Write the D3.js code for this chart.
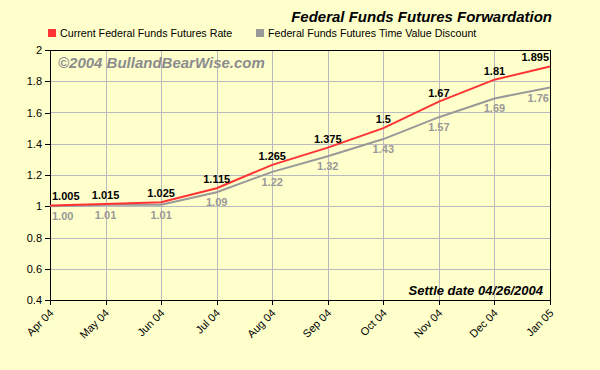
<!DOCTYPE html>
<html>
<head>
<meta charset="utf-8">
<script src="https://cdn.jsdelivr.net/npm/d3@7"></script>
<style>
  body { margin: 0; background: #ffffcc; }
  svg { display: block; font-family: Arial, "Liberation Sans", sans-serif; }
</style>
</head>
<body>
<svg width="600" height="370"></svg>
<script>
// chart data
var months = ["Apr 04", "May 04", "Jun 04", "Jul 04", "Aug 04", "Sep 04", "Oct 04", "Nov 04", "Dec 04", "Jan 05"];
var futuresRate = [1.005, 1.015, 1.025, 1.115, 1.265, 1.375, 1.5, 1.67, 1.81, 1.895];
var rateLabels = ["1.005", "1.015", "1.025", "1.115", "1.265", "1.375", "1.5", "1.67", "1.81", "1.895"];
var discount = [1.00, 1.01, 1.01, 1.09, 1.22, 1.32, 1.43, 1.57, 1.69, 1.76];
var yTicks = [0.4, 0.6, 0.8, 1, 1.2, 1.4, 1.6, 1.8, 2];

var svg = d3.select("svg");
var plotLeft = 50, plotRight = 550, plotTop = 50, plotBottom = 300;

var x = d3.scalePoint().domain(months).range([plotLeft, plotRight]);
var y = d3.scaleLinear().domain([0.4, 2]).range([plotBottom, plotTop]);

svg.append("rect").attr("width", 600).attr("height", 370).attr("fill", "#ffffcc");

// grid
var grid = svg.append("g").attr("shape-rendering", "crispEdges");
grid.selectAll(".hg").data(yTicks.slice(1, -1)).enter().append("line")
  .attr("x1", plotLeft).attr("x2", plotRight)
  .attr("y1", function (d) { return Math.round(y(d)) + 0.5; })
  .attr("y2", function (d) { return Math.round(y(d)) + 0.5; })
  .attr("stroke", "#b9b9c0");
grid.selectAll(".vg").data(months.slice(1, -1)).enter().append("line")
  .attr("y1", plotTop).attr("y2", plotBottom)
  .attr("x1", function (d) { return Math.round(x(d)) + 0.5; })
  .attr("x2", function (d) { return Math.round(x(d)) + 0.5; })
  .attr("stroke", "#b9b9c0");

// watermark
svg.append("text").attr("x", 58).attr("y", 68)
  .attr("font-size", 15).attr("font-weight", "bold").attr("font-style", "italic")
  .attr("fill", "#8c8c8c").text("\u00a92004 BullandBearWise.com");

// axes
var yAxis = svg.append("g").attr("transform", "translate(" + plotLeft + ",0)")
  .call(d3.axisLeft(y).tickValues(yTicks).tickSize(5).tickPadding(3).tickFormat(d3.format("")));
var xAxis = svg.append("g").attr("transform", "translate(0," + plotBottom + ")")
  .call(d3.axisBottom(x).tickSize(5).tickPadding(4));
[yAxis, xAxis].forEach(function (a) {
  a.select(".domain").remove();
  a.selectAll("line").attr("stroke", "#000").attr("shape-rendering", "crispEdges");
  a.selectAll("text").attr("font-size", 11).attr("fill", "#000").attr("font-family", "Arial, 'Liberation Sans', sans-serif");
});
xAxis.selectAll("text")
  .attr("text-anchor", "end")
  .attr("x", 0).attr("y", 0)
  .attr("dy", "0.35em")
  .attr("transform", "translate(1,11) rotate(-45)");

// frame
svg.append("rect").attr("x", plotLeft + 0.5).attr("y", plotTop + 0.5)
  .attr("width", plotRight - plotLeft).attr("height", plotBottom - plotTop)
  .attr("fill", "none").attr("stroke", "#000").attr("shape-rendering", "crispEdges");

// lines
var line = d3.line().x(function (d, i) { return x(months[i]); }).y(function (d) { return y(d); });
svg.append("path").datum(discount).attr("d", line)
  .attr("fill", "none").attr("stroke", "#999999").attr("stroke-width", 2);
svg.append("path").datum(futuresRate).attr("d", line)
  .attr("fill", "none").attr("stroke", "#ff3333").attr("stroke-width", 2);

function anchorFor(i) {
  return i === 0 ? "start" : (i === months.length - 1 ? "end" : "middle");
}
function dxFor(i) {
  return i === 0 ? 2 : (i === months.length - 1 ? -1 : 0);
}

svg.selectAll(".rl").data(futuresRate).enter().append("text")
  .attr("x", function (d, i) { return x(months[i]) + dxFor(i); })
  .attr("y", function (d) { return y(d) - 5; })
  .attr("text-anchor", function (d, i) { return anchorFor(i); })
  .attr("font-size", 11).attr("font-weight", "bold").attr("fill", "#000")
  .text(function (d, i) { return rateLabels[i]; });

svg.selectAll(".gl").data(discount).enter().append("text")
  .attr("x", function (d, i) { return x(months[i]) + dxFor(i); })
  .attr("y", function (d) { return y(d) + 14; })
  .attr("text-anchor", function (d, i) { return anchorFor(i); })
  .attr("font-size", 11).attr("font-weight", "bold").attr("fill", "#999999")
  .text(function (d) { return d3.format(".2f")(d); });

// title
svg.append("text").attr("x", 552).attr("y", 22).attr("text-anchor", "end")
  .attr("font-size", 15).attr("font-weight", "bold").attr("font-style", "italic")
  .attr("fill", "#000").text("Federal Funds Futures Forwardation");

// legend
var legend = [
  { name: "Current Federal Funds Futures Rate", color: "#ff3333", x: 48 },
  { name: "Federal Funds Futures Time Value Discount", color: "#999999", x: 256 }
];
var lg = svg.selectAll(".lg").data(legend).enter().append("g")
  .attr("transform", function (d) { return "translate(" + d.x + ",29)"; });
lg.append("rect").attr("width", 8).attr("height", 8).attr("fill", function (d) { return d.color; });
lg.append("text").attr("x", 12).attr("y", 8).attr("font-size", 10.7).attr("fill", "#000")
  .text(function (d) { return d.name; });

// settle date
svg.append("text").attr("x", 543).attr("y", 295).attr("text-anchor", "end")
  .attr("font-size", 13).attr("font-weight", "bold").attr("font-style", "italic")
  .attr("fill", "#000").text("Settle date 04/26/2004");
</script>
</body>
</html>
